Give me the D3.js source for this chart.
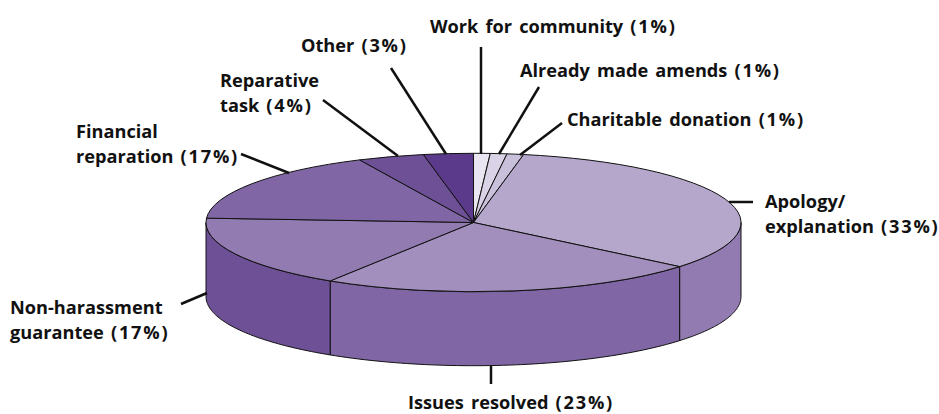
<!DOCTYPE html>
<html>
<head>
<meta charset="utf-8">
<script src="https://cdn.jsdelivr.net/npm/d3@7"></script>
<style>
  html, body { margin: 0; padding: 0; background: #fff; }
  svg { display: block; }
  text { font-family: "Open Sans", sans-serif; font-weight: 700; font-size: 18.2px; word-spacing: 2.4px; fill: #111; }
  .share { letter-spacing: 1.8px; }
</style>
</head>
<body>
<svg id="chart" width="939" height="414"></svg>
<script>
// Outcome categories, clockwise from twelve o'clock
const categories = ["Work for community", "Already made amends", "Charitable donation", "Apology/explanation",
  "Issues resolved", "Non-harassment guarantee", "Financial reparation", "Reparative task", "Other"];
const shares = [1, 1, 1, 33, 23, 17, 17, 4, 3];
const topColours = ["#e9e6f1", "#dad3e7", "#c9c0dc", "#b5a7cc", "#a28fbd", "#927bb1", "#8066a5", "#6e5097", "#5c3a8b"];
const sideColours = ["#e9e6f1", "#dad3e7", "#c9c0dc", "#927bb1", "#8066a5", "#6e5097", "#8066a5", "#6e5097", "#5c3a8b"];

// Label text, one entry per line, with the left edge and baseline of each block
const labelLines = [
  ["Work for community (1%)"],
  ["Already made amends (1%)"],
  ["Charitable donation (1%)"],
  ["Apology/", "explanation (33%)"],
  ["Issues resolved (23%)"],
  ["Non-harassment", "guarantee (17%)"],
  ["Financial", "reparation (17%)"],
  ["Reparative", "task (4%)"],
  ["Other (3%)"]
];
const labelAnchors = [[430, 33], [520, 77], [567, 126], [765, 208], [408, 409], [10, 313.5], [76, 138], [220, 87], [301, 52]];
const lineHeight = 25;
const leaders = [
  [[481, 47], [481, 154]],
  [[539, 87], [499, 154]],
  [[562, 123], [520, 155]],
  [[753, 202], [729, 202]],
  [[491, 384], [491, 366]],
  [[181, 304], [207, 293]],
  [[241, 154], [289, 173]],
  [[323, 100], [398, 156]],
  [[391, 68], [446, 154]]
];

const cx = 473.5, cy = 222.5, rx = 267.5, ry = 69.2, depth = 74;
const svg = d3.select("#chart");

const pie = d3.pie().sort(null).value(d => d)
  .startAngle(0).endAngle(2 * Math.PI);
const arcs = pie(shares);

// Projection of a pie angle onto the tilted disc
const px = a => cx + rx * Math.sin(a);
const py = a => cy - ry * Math.cos(a);

// Rim wall: only the part of each wedge that faces the viewer
const HALF = Math.PI / 2;
const wall = d3.line();
const front = arcs
  .map((d, i) => ({ i, a0: Math.max(d.startAngle, HALF), a1: Math.min(d.endAngle, 3 * HALF) }))
  .filter(d => d.a1 > d.a0);

svg.append("g").selectAll("path").data(front).join("path")
  .attr("d", d => {
    const steps = d3.range(0, 61).map(k => d.a0 + (d.a1 - d.a0) * k / 60);
    const upper = steps.map(a => [px(a), py(a)]);
    const lower = steps.slice().reverse().map(a => [px(a), py(a) + depth]);
    return wall(upper.concat(lower)) + "Z";
  })
  .attr("fill", d => sideColours[d.i])
  .attr("stroke", "#111")
  .attr("stroke-width", 1);

// Top face: a flat pie squashed into an ellipse, stroke kept at constant width
const arc = d3.arc().innerRadius(0).outerRadius(rx);
svg.append("g")
  .attr("transform", `translate(${cx},${cy}) scale(1,${ry / rx})`)
  .selectAll("path").data(arcs).join("path")
  .attr("d", arc)
  .attr("fill", (d, i) => topColours[i])
  .attr("stroke", "#111")
  .attr("stroke-width", 1)
  .attr("vector-effect", "non-scaling-stroke")
  .attr("stroke-linejoin", "round");

// Leader lines
svg.append("g").selectAll("path").data(leaders).join("path")
  .attr("d", d3.line())
  .attr("fill", "none")
  .attr("stroke", "#111")
  .attr("stroke-width", 2.5);

// Labels: each line is split so the bracketed share can be tracked wider than the name
const labels = svg.append("g").selectAll("text").data(labelLines).join("text")
  .attr("aria-label", (d, i) => categories[i])
  .attr("x", (d, i) => labelAnchors[i][0])
  .attr("y", (d, i) => labelAnchors[i][1]);
labels.each(function (lines) {
  const text = d3.select(this);
  const x = text.attr("x");
  lines.forEach((line, n) => {
    const cut = line.indexOf("(");
    const name = cut < 0 ? line : line.slice(0, cut);
    text.append("tspan").attr("x", x).attr("dy", n ? lineHeight : 0).text(name);
    if (cut >= 0) text.append("tspan").attr("class", "share").text(line.slice(cut));
  });
});
</script>
</body>
</html>
